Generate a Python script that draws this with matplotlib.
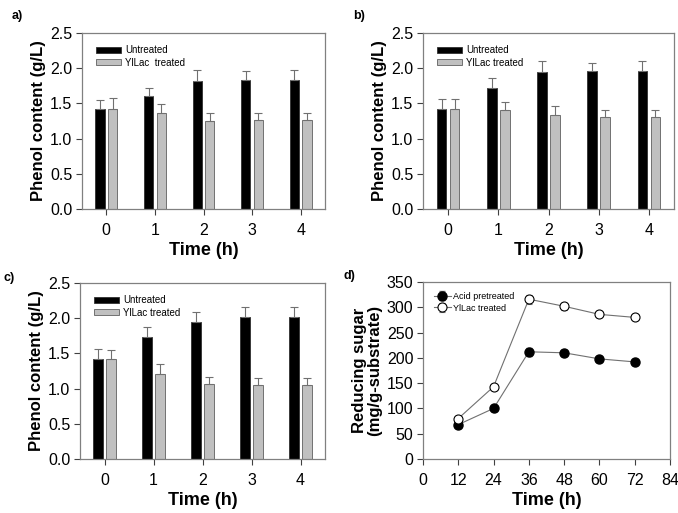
import matplotlib
matplotlib.use("Agg")
import matplotlib.pyplot as plt
import numpy as np

plt.rcParams['font.family'] = ['Liberation Sans', 'DejaVu Sans']

hours = [0, 1, 2, 3, 4]
a_untreated = [1.42, 1.60, 1.82, 1.83, 1.83]
a_untreated_err = [0.13, 0.12, 0.15, 0.13, 0.14]
a_treated = [1.42, 1.36, 1.25, 1.26, 1.26]
a_treated_err = [0.15, 0.13, 0.11, 0.10, 0.10]

b_untreated = [1.42, 1.72, 1.95, 1.96, 1.96]
b_untreated_err = [0.14, 0.14, 0.15, 0.12, 0.14]
b_treated = [1.42, 1.40, 1.33, 1.30, 1.30]
b_treated_err = [0.14, 0.12, 0.13, 0.10, 0.10]

c_untreated = [1.42, 1.73, 1.95, 2.02, 2.02]
c_untreated_err = [0.14, 0.15, 0.14, 0.14, 0.14]
c_treated = [1.42, 1.21, 1.06, 1.05, 1.05]
c_treated_err = [0.13, 0.14, 0.10, 0.10, 0.10]

d_time = [12, 24, 36, 48, 60, 72]
d_acid = [68, 100, 212, 210, 198, 192]
d_acid_err = [4, 5, 8, 5, 4, 4]
d_lac = [80, 143, 316, 302, 286, 280]
d_lac_err = [4, 4, 9, 7, 5, 4]

W, H = 678, 513
fig = plt.figure(figsize=(W/100, H/100), dpi=100)

def ax_px(l, t, r, b):
    return fig.add_axes([l/W, 1-b/H, (r-l)/W, (b-t)/H])

SP = '#808080'

def style(ax):
    for s in ax.spines.values():
        s.set_color(SP)
        s.set_linewidth(0.9)
    ax.tick_params(direction='out', length=4, width=0.8, color='#404040',
                   labelsize=11.5, top=False, right=False)
    ax.tick_params(axis='x', pad=6)
    ax.tick_params(axis='y', pad=3)

def bar_panel(ax, unt, unt_err, trt, trt_err, leg2):
    x = np.array(hours)
    w = 0.19
    off = 0.13
    ax.bar(x-off, unt, w, color='black', edgecolor='#303030', linewidth=0.6,
           label='Untreated', zorder=2)
    ax.bar(x+off, trt, w, color='#c0c0c0', edgecolor='#606060', linewidth=0.6,
           label=leg2, zorder=2)
    ax.errorbar(x-off, unt, yerr=[np.zeros(5), unt_err], fmt='none',
                ecolor='#707070', elinewidth=0.8, capsize=3, capthick=0.8, zorder=3)
    ax.errorbar(x+off, trt, yerr=[np.zeros(5), trt_err], fmt='none',
                ecolor='#707070', elinewidth=0.8, capsize=3, capthick=0.8, zorder=3)
    ax.set_xlim(-0.5, 4.5)
    ax.set_ylim(0, 2.5)
    ax.set_xticks(hours)
    ax.set_yticks(np.arange(0, 2.51, 0.5))
    ax.set_yticklabels([f'{v:.1f}' for v in np.arange(0, 2.51, 0.5)])
    ax.set_xlabel('Time (h)', fontsize=13, fontweight='bold', labelpad=3)
    ax.set_ylabel('Phenol content (g/L)', fontsize=12, fontweight='bold', labelpad=3)
    style(ax)
    ax.legend(loc='upper left', fontsize=7, frameon=False, handlelength=2.6,
              handleheight=0.6, borderaxespad=0.5, labelspacing=0.25,
              handletextpad=0.4, bbox_to_anchor=(0.02, 0.98))

axa = ax_px(82, 33, 325, 209)
bar_panel(axa, a_untreated, a_untreated_err, a_treated, a_treated_err, 'YlLac  treated')
axb = ax_px(423, 33, 674, 209)
bar_panel(axb, b_untreated, b_untreated_err, b_treated, b_treated_err, 'YlLac treated')
axc = ax_px(80, 283, 325, 459)
bar_panel(axc, c_untreated, c_untreated_err, c_treated, c_treated_err, 'YlLac treated')

axd = ax_px(423, 282, 670, 459)
axd.errorbar(d_time, d_acid, yerr=d_acid_err, fmt='-o', color='#707070', lw=0.8,
             mfc='black', mec='black', ms=6.5, ecolor='#707070', elinewidth=0.8,
             capsize=2.5, label='Acid pretreated', zorder=3)
axd.errorbar(d_time, d_lac, yerr=d_lac_err, fmt='-o', color='#707070', lw=0.8,
             mfc='white', mec='black', ms=6.5, mew=0.8, ecolor='#707070', elinewidth=0.8,
             capsize=2.5, label='YlLac treated', zorder=3)
axd.set_xlim(0, 84)
axd.set_ylim(0, 350)
axd.set_xticks(np.arange(0, 85, 12))
axd.set_yticks(np.arange(0, 351, 50))
axd.set_xlabel('Time (h)', fontsize=13, fontweight='bold', labelpad=3)
axd.set_ylabel('Reducing sugar\n(mg/g-substrate)', fontsize=12, fontweight='bold',
               labelpad=3, linespacing=1.05)
style(axd)
axd.legend(loc='upper left', fontsize=6.5, frameon=False, handlelength=1.8,
           borderaxespad=0.3, labelspacing=0.3, handletextpad=0.3,
           bbox_to_anchor=(0.02, 0.98))

for txt, x, y in [('a)', 12, 16), ('b)', 353, 16), ('c)', 3, 278), ('d)', 343, 276)]:
    fig.text(x/W, 1-y/H, txt, fontsize=9, fontweight='bold', va='center', ha='left')

fig.savefig('out.png', dpi=100)
